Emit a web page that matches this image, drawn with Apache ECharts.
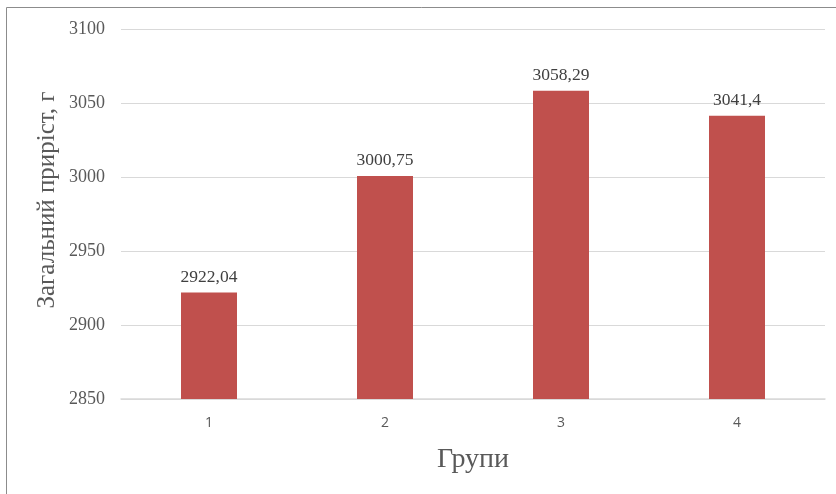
<!DOCTYPE html>
<html><head><meta charset="utf-8">
<script src="https://cdn.jsdelivr.net/npm/echarts@6/dist/echarts.min.js"></script>
<style>html,body{margin:0;padding:0;background:#fff}#c{width:836px;height:494px}</style>
</head><body><div id="c"></div>
<script>
const categories = ['1', '2', '3', '4'];
const values = [2922.04, 3000.75, 3058.29, 3041.4];
const valueLabels = ['2922,04', '3000,75', '3058,29', '3041,4'];
const yTitle = 'Загальний приріст, г';
const xTitle = 'Групи';

const chart = echarts.init(document.getElementById('c'));
chart.setOption({
  animation: false,
  graphic: [
    {type: 'rect', shape: {x: 6.5, y: 7.5, width: 900, height: 600}, style: {fill: 'none', stroke: '#8c8c8c', lineWidth: 1}, z: 100},
    {type: 'text', x: 47, y: 200, rotation: Math.PI / 2,
      style: {text: yTitle, font: '25px "Liberation Serif", serif', fill: '#595959', align: 'center', verticalAlign: 'middle'}}
  ],
  grid: {left: 121, right: 11, top: 29, bottom: 95},
  xAxis: {
    type: 'category', data: categories,
    axisLine: {lineStyle: {color: '#d9d9d9', width: 1.5}},
    axisTick: {show: false},
    axisLabel: {color: '#595959', fontFamily: 'Open Sans', fontSize: 14, margin: 17},
    name: xTitle, nameLocation: 'middle', nameGap: 47,
    nameTextStyle: {fontFamily: '"Liberation Serif", serif', fontSize: 28, color: '#595959'}
  },
  yAxis: {
    type: 'value', min: 2850, max: 3100, interval: 50,
    axisLine: {show: false}, axisTick: {show: false},
    splitLine: {lineStyle: {color: '#d9d9d9', width: 1}},
    axisLabel: {color: '#595959', fontFamily: '"Liberation Serif", serif', fontSize: 18, margin: 16,
      formatter: v => String(v)}
  },
  series: [{
    type: 'bar', data: values, barWidth: 56,
    itemStyle: {color: '#c0504d'},
    label: {show: true, position: 'top', distance: 6, color: '#404040', fontFamily: '"Liberation Serif", serif', fontSize: 17.5,
      formatter: p => valueLabels[p.dataIndex]}
  }]
});
</script></body></html>
